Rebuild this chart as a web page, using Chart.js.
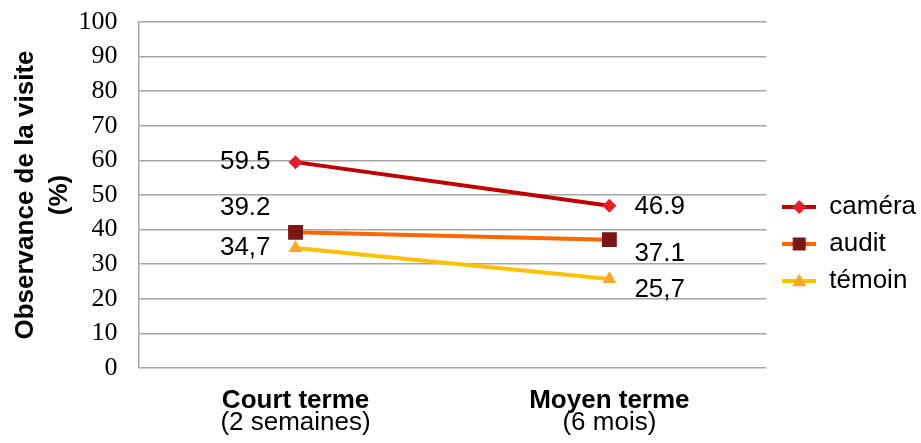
<!DOCTYPE html>
<html>
<head>
<meta charset="utf-8">
<script src="https://cdn.jsdelivr.net/npm/chart.js@4/dist/chart.umd.min.js"></script>
<style>
  html, body { margin: 0; padding: 0; background: #fff; }
  #wrap { width: 921px; height: 443px; }
</style>
</head>
<body>
<div id="wrap"><canvas id="c" width="921" height="443"></canvas></div>
<script>
// ---- data ----
const categoryMain = ['Court terme', 'Moyen terme'];
const categorySub = ['(2 semaines)', '(6 mois)'];
const seriesNames = ['caméra', 'audit', 'témoin'];
const cameraValues = [59.5, 46.9];
const auditValues = [39.2, 37.1];
const temoinValues = [34.7, 25.7];
const cameraLabels = ['59.5', '46.9'];
const auditLabels = ['39.2', '37.1'];
const temoinLabels = ['34,7', '25,7'];
const yTicks = [0, 10, 20, 30, 40, 50, 60, 70, 80, 90, 100];
const yTitle = ['Observance de la visite', '(%)'];

// ---- styles ----
const styles = [
  { line: '#C00000', marker: '#E3202A', shape: 'rectRot', radius: 7 },
  { line: '#FF6600', marker: '#7A1616', shape: 'rect', radius: 10.5 },
  { line: '#FFC000', marker: '#F8A824', shape: 'triangle', radius: 8 }
];
const labelDy = [[0, 1], [-25, 14], [0, 11]];
const labelGap = 25;
const legendShift = { x: 5, y: 49 };
const FONT = '"Liberation Sans", Arial, sans-serif';

function legendImage(st) {
  const cv = document.createElement('canvas');
  cv.width = 34; cv.height = 20;
  const ctx = cv.getContext('2d');
  ctx.strokeStyle = st.line; ctx.lineWidth = 4;
  ctx.beginPath(); ctx.moveTo(0, 10); ctx.lineTo(34, 10); ctx.stroke();
  ctx.fillStyle = st.marker;
  ctx.beginPath();
  if (st.shape === 'rectRot') {
    const r = 7;
    ctx.moveTo(17, 10 - r); ctx.lineTo(17 + r, 10); ctx.lineTo(17, 10 + r); ctx.lineTo(17 - r, 10); ctx.closePath();
  } else if (st.shape === 'rect') {
    const s = 6.5;
    ctx.rect(17 - s, 10 - s, 2 * s, 2 * s);
  } else {
    const r = 7.5;
    ctx.moveTo(17, 10 - r); ctx.lineTo(17 + r * 0.95, 10 + r * 0.7); ctx.lineTo(17 - r * 0.95, 10 + r * 0.7); ctx.closePath();
  }
  ctx.fill();
  return cv;
}

const valueLabels = [cameraLabels, auditLabels, temoinLabels];

const dataLabelPlugin = {
  id: 'dataLabels',
  afterDatasetsDraw(chart) {
    const ctx = chart.ctx;
    ctx.save();
    ctx.font = '26px ' + FONT;
    ctx.fillStyle = '#000';
    ctx.textBaseline = 'middle';
    chart.data.datasets.forEach((ds, di) => {
      const meta = chart.getDatasetMeta(di);
      meta.data.forEach((pt, pi) => {
        const txt = valueLabels[di][pi];
        if (pi === 0) { ctx.textAlign = 'right'; ctx.fillText(txt, pt.x - labelGap, pt.y + labelDy[di][pi]); }
        else { ctx.textAlign = 'left'; ctx.fillText(txt, pt.x + labelGap, pt.y + labelDy[di][pi]); }
      });
    });
    ctx.restore();
  }
};

const catLabelPlugin = {
  id: 'catLabels',
  afterDraw(chart) {
    const ctx = chart.ctx;
    const xs = chart.scales.x;
    const bottom = chart.chartArea.bottom;
    ctx.save();
    ctx.fillStyle = '#000';
    ctx.textAlign = 'center';
    ctx.textBaseline = 'middle';
    categoryMain.forEach((c, i) => {
      const x = xs.getPixelForValue(i);
      ctx.font = 'bold 26px ' + FONT;
      ctx.fillText(c, x, bottom + 33);
      ctx.font = '26px ' + FONT;
      ctx.fillText(categorySub[i], x, bottom + 55);
    });
    ctx.restore();
  }
};

const legendMovePlugin = {
  id: 'legendMove',
  afterLayout(chart) {
    const lg = chart.legend;
    if (!lg) return;
    lg.top += legendShift.y; lg.bottom += legendShift.y;
    lg.left += legendShift.x; lg.right += legendShift.x;
  }
};

const datasets = [cameraValues, auditValues, temoinValues].map((vals, i) => ({
  label: seriesNames[i],
  data: vals,
  borderColor: styles[i].line,
  backgroundColor: styles[i].marker,
  pointBackgroundColor: styles[i].marker,
  pointBorderColor: styles[i].marker,
  pointBorderWidth: 0,
  pointStyle: styles[i].shape,
  pointRadius: styles[i].radius,
  pointHoverRadius: styles[i].radius,
  borderWidth: 4,
  tension: 0
}));

new Chart(document.getElementById('c'), {
  type: 'line',
  data: { labels: categoryMain, datasets },
  plugins: [dataLabelPlugin, catLabelPlugin, legendMovePlugin],
  options: {
    responsive: false,
    animation: false,
    events: [],
    layout: { padding: { top: 22, bottom: 75, left: 0, right: 0 } },
    scales: {
      x: {
        offset: true,
        grid: { display: false, drawTicks: false },
        border: { display: false },
        ticks: { display: false }
      },
      y: {
        min: 0, max: 100,
        afterBuildTicks(axis) { axis.ticks = yTicks.map(v => ({ value: v })); },
        grid: { color: '#A6A6A6', lineWidth: 1.5, drawTicks: true, tickLength: 19, tickColor: 'rgba(0,0,0,0)' },
        border: { color: '#A6A6A6', width: 1.5 },
        ticks: {
          padding: 2,
          color: '#000',
          font: { family: '"Liberation Serif", "Times New Roman", serif', size: 26 }
        },
        title: {
          display: true,
          text: yTitle,
          color: '#000',
          font: { family: FONT, size: 26, weight: 'bold', lineHeight: 1.3 },
          padding: { top: 9, bottom: 0 }
        }
      }
    },
    plugins: {
      tooltip: { enabled: false },
      legend: {
        position: 'right',
        align: 'center',
        labels: {
          usePointStyle: true,
          pointStyleWidth: 34,
          color: '#000',
          padding: 11,
          font: { family: FONT, size: 26 },
          generateLabels(chart) {
            const items = Chart.defaults.plugins.legend.labels.generateLabels(chart);
            items.forEach((it) => { it.pointStyle = legendImage(styles[it.datasetIndex]); it.lineWidth = 0; });
            return items;
          }
        }
      }
    }
  }
});
</script>
</body>
</html>
